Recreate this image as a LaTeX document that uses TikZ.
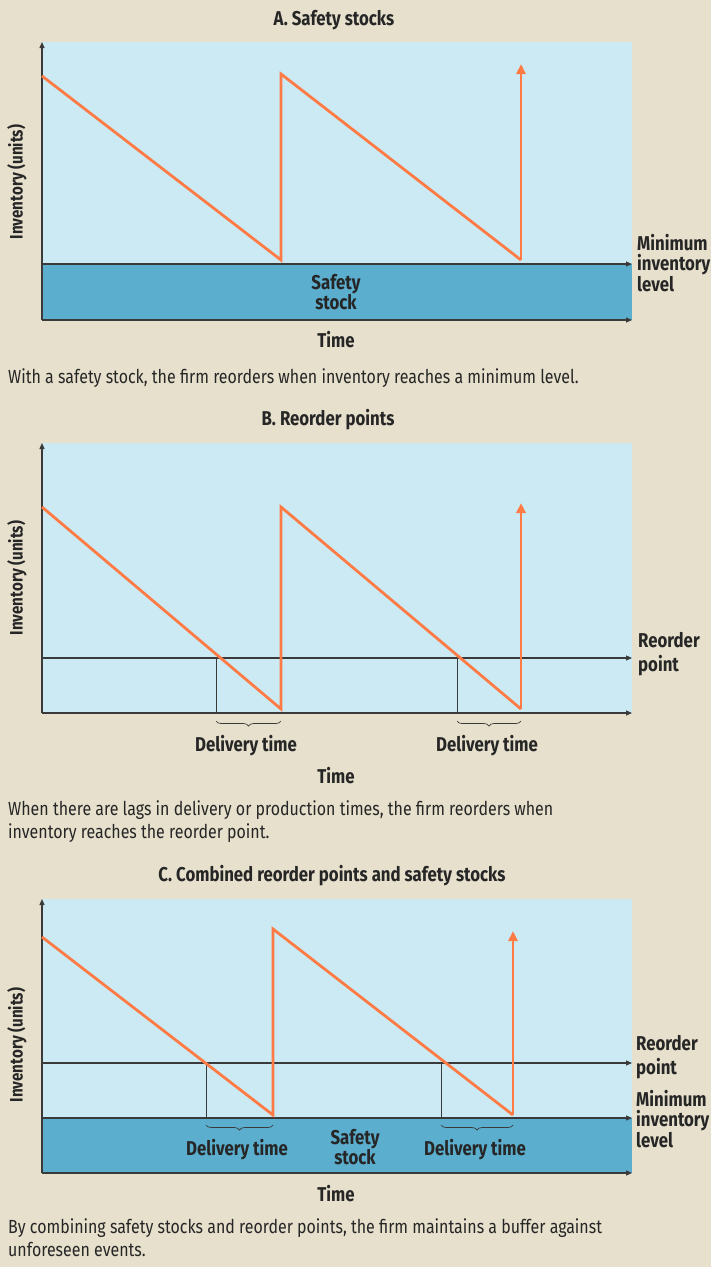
\documentclass[tikz,border=0pt]{standalone}
\usepackage{fontspec}
\setmainfont{Fira Sans}[FakeStretch=0.84]
\usetikzlibrary{decorations.pathreplacing,arrows.meta}
\definecolor{bg}{HTML}{E6E0CC}
\definecolor{lightb}{HTML}{CCEAF3}
\definecolor{darkb}{HTML}{5BAECD}
\definecolor{orng}{HTML}{FF7B45}
\definecolor{axc}{HTML}{3A3A3A}
\definecolor{txt}{HTML}{262626}
\tikzset{
  axisline/.style={draw=axc, line width=1.3pt, -{Triangle[length=6pt,width=5pt]}},
  lvl/.style={draw=axc, line width=1.1pt, -{Triangle[length=6pt,width=5pt]}},
  thinline/.style={draw=axc, line width=0.6pt},
  saw/.style={draw=orng, line width=2.8pt, line join=miter},
  sawarrow/.style={draw=orng, line width=2.8pt, -{Triangle[length=10pt,width=9pt]}},
  lbl/.style={font=\fontsize{20}{19}\selectfont\bfseries, text=txt, inner sep=0pt},
  side/.style={font=\fontsize{20}{20.5}\selectfont\bfseries, text=txt, inner sep=0pt, anchor=north west, align=left},
  sidewide/.style={side, font=\fontsize{20}{24}\selectfont\bfseries},
  captext/.style={font=\fontsize{19}{23}\selectfont, text=txt, inner sep=0pt, anchor=north west, align=left},
  ylab/.style={font=\fontsize{18}{20}\selectfont\bfseries, text=txt, inner sep=0pt, rotate=90},
  brc/.style={draw=axc, line width=0.7pt, decorate, decoration={brace, mirror, amplitude=5pt}},
}
\begin{document}
\begin{tikzpicture}[x=1pt,y=-1pt]
\fill[bg] (0,0) rectangle (711,1267);
\useasboundingbox (0,0) rectangle (711,1267);

% ---------------- Panel A ----------------
\node[lbl] (tA) at (334,20) {A. Safety stocks};
\fill[lightb] (42,42) rectangle (632,264);
\fill[darkb] (42,264) rectangle (632,320);
\coordinate (a0) at (42,320);
\coordinate (aTop) at (42,42);
\coordinate (aEnd) at (632,320);
\coordinate (aMin0) at (42,264);
\coordinate (aMin1) at (632,264);
\draw[lvl] (aMin0) -- (aMin1);
\draw[axisline] (a0) -- (aTop);
\draw[axisline] (a0) -- (aEnd);
\coordinate (ap1) at (42,76);
\coordinate (ap2) at (281,260);
\coordinate (ap3) at (281,74);
\coordinate (ap4) at (521,260);
\coordinate (ap5) at (521,64);
\draw[saw] (ap1) -- (ap2) -- (ap3) -- (ap4);
\draw[sawarrow] (ap4) -- (ap5);
\node[lbl, align=center] (ssA) at (336,292) {Safety\\stock};
\node[side] (minA) at (637,234) {Minimum\\inventory\\level};
\node[lbl] (timeA) at (336,340) {Time};
\node[ylab] (yA) at (17,182) {Inventory (units)};
\node[captext] (capA) at (8,368) {With a safety stock, the firm reorders when inventory reaches a minimum level.};

% ---------------- Panel B ----------------
\node[lbl] (tB) at (328,420) {B. Reorder points};
\fill[lightb] (42,443) rectangle (632,713);
\coordinate (b0) at (42,713);
\coordinate (bTop) at (42,443);
\coordinate (bEnd) at (632,713);
\coordinate (bR0) at (42,658);
\coordinate (bR1) at (632,658);
\coordinate (bv1t) at (216,658);
\coordinate (bv1b) at (216,713);
\coordinate (bv2t) at (457,658);
\coordinate (bv2b) at (457,713);
\draw[thinline] (bv1t) -- (bv1b);
\draw[thinline] (bv2t) -- (bv2b);
\draw[lvl] (bR0) -- (bR1);
\draw[axisline] (b0) -- (bTop);
\draw[axisline] (b0) -- (bEnd);
\coordinate (bp1) at (42,507);
\coordinate (bp2) at (281,709);
\coordinate (bp3) at (281,507);
\coordinate (bp4) at (521,709);
\coordinate (bp5) at (521,503);
\draw[saw] (bp1) -- (bp2) -- (bp3) -- (bp4);
\draw[sawarrow] (bp4) -- (bp5);
\coordinate (bb1l) at (216,721);
\coordinate (bb1r) at (281,721);
\coordinate (bb2l) at (457,721);
\coordinate (bb2r) at (521,721);
\draw[brc] (bb1l) -- (bb1r);
\draw[brc] (bb2l) -- (bb2r);
\node[lbl] (dB1) at (246,746) {Delivery time};
\node[lbl] (dB2) at (487,746) {Delivery time};
\node[sidewide] (rpB) at (638,632) {Reorder\\point};
\node[lbl] (timeB) at (336,776) {Time};
\node[ylab] (yB) at (17,578) {Inventory (units)};
\node[captext] (capB) at (8,800) {When there are lags in delivery or production times, the firm reorders when\\inventory reaches the reorder point.};

% ---------------- Panel C ----------------
\node[lbl] (tC) at (332,876) {C. Combined reorder points and safety stocks};
\fill[lightb] (42,899) rectangle (632,1118);
\fill[darkb] (42,1118) rectangle (632,1173);
\coordinate (c0) at (42,1173);
\coordinate (cTop) at (42,899);
\coordinate (cEnd) at (632,1173);
\coordinate (cR0) at (42,1063);
\coordinate (cR1) at (632,1063);
\coordinate (cM0) at (42,1118);
\coordinate (cM1) at (632,1118);
\coordinate (cv1t) at (206,1063);
\coordinate (cv1b) at (206,1118);
\coordinate (cv2t) at (441,1063);
\coordinate (cv2b) at (441,1118);
\draw[thinline] (cv1t) -- (cv1b);
\draw[thinline] (cv2t) -- (cv2b);
\draw[lvl] (cR0) -- (cR1);
\draw[lvl] (cM0) -- (cM1);
\draw[axisline] (c0) -- (cTop);
\draw[axisline] (c0) -- (cEnd);
\coordinate (cp1) at (42,937);
\coordinate (cp2) at (273,1115);
\coordinate (cp3) at (273,929);
\coordinate (cp4) at (513,1115);
\coordinate (cp5) at (513,931);
\draw[saw] (cp1) -- (cp2) -- (cp3) -- (cp4);
\draw[sawarrow] (cp4) -- (cp5);
\coordinate (cb1l) at (206,1125);
\coordinate (cb1r) at (273,1125);
\coordinate (cb2l) at (441,1125);
\coordinate (cb2r) at (513,1125);
\draw[brc] (cb1l) -- (cb1r);
\draw[brc] (cb2l) -- (cb2r);
\node[lbl] (dC1) at (237,1150) {Delivery time};
\node[lbl] (dC2) at (475,1150) {Delivery time};
\node[lbl, align=center] (ssC) at (355,1147) {Safety\\stock};
\node[sidewide] (rpC) at (636,1035) {Reorder\\point};
\node[side] (minC) at (636,1090) {Minimum\\inventory\\level};
\node[lbl] (timeC) at (336,1194) {Time};
\node[ylab] (yC) at (17,1045) {Inventory (units)};
\node[captext] (capC) at (8,1218) {By combining safety stocks and reorder points, the firm maintains a buffer against\\unforeseen events.};
\end{tikzpicture}
\end{document}
